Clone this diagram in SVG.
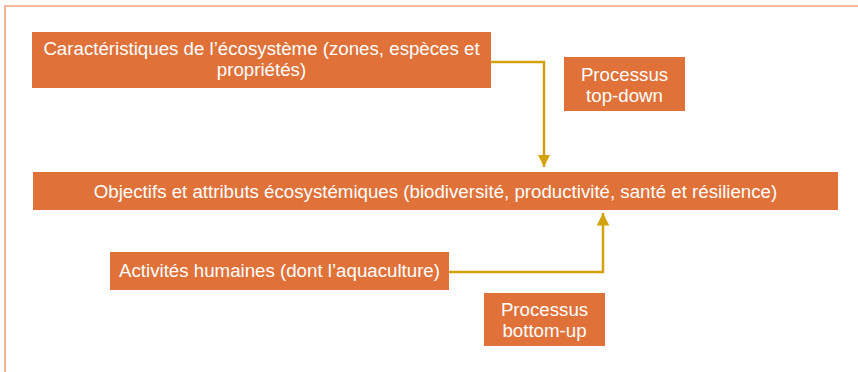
<svg xmlns="http://www.w3.org/2000/svg" width="858" height="372" viewBox="0 0 858 372">
  <style>
    .box { fill: #DF7139; }
    .lbl { font-family: "Liberation Sans", Arial, sans-serif; font-size: 18.7px; fill: #FFFFFF; text-anchor: middle; }
    .link { fill: none; stroke: #D4A20C; stroke-width: 2.5; }
  </style>
  <defs>
    <marker id="arrow" viewBox="0 0 10 10" refX="10" refY="5" markerWidth="5" markerHeight="6.5" markerUnits="strokeWidth" orient="auto">
      <path d="M0,0 L10,5 L0,10 Z" fill="#D4A20C"/>
    </marker>
  </defs>

  <!-- outer frame -->
  <path d="M5,372 V6 H858" fill="none" stroke="#F2A27C" stroke-width="1.6"/>

  <g id="connectors">
    <path class="link" d="M491,62 H544 V167" marker-end="url(#arrow)"/>
    <path class="link" d="M449,272 H603 V213" marker-end="url(#arrow)"/>
  </g>

  <g id="caracteristiques">
    <rect class="box" x="32" y="32" width="459" height="56"/>
    <text class="lbl" x="261.5" y="55">Caractéristiques de l’écosystème (zones, espèces et</text>
    <text class="lbl" x="261.5" y="76">propriétés)</text>
  </g>

  <g id="top-down">
    <rect class="box" x="564" y="57" width="121" height="54"/>
    <text class="lbl" x="624.5" y="80.5">Processus</text>
    <text class="lbl" x="624.5" y="101.5">top-down</text>
  </g>

  <g id="objectifs">
    <rect class="box" x="33" y="172" width="805" height="38"/>
    <text class="lbl" x="435.5" y="197.5">Objectifs et attributs écosystémiques (biodiversité, productivité, santé et résilience)</text>
  </g>

  <g id="activites">
    <rect class="box" x="110" y="252" width="339" height="38"/>
    <text class="lbl" x="279.5" y="277">Activités humaines (dont l’aquaculture)</text>
  </g>

  <g id="bottom-up">
    <rect class="box" x="484" y="293" width="121" height="53"/>
    <text class="lbl" x="544.5" y="316">Processus</text>
    <text class="lbl" x="544.5" y="337">bottom-up</text>
  </g>
</svg>
